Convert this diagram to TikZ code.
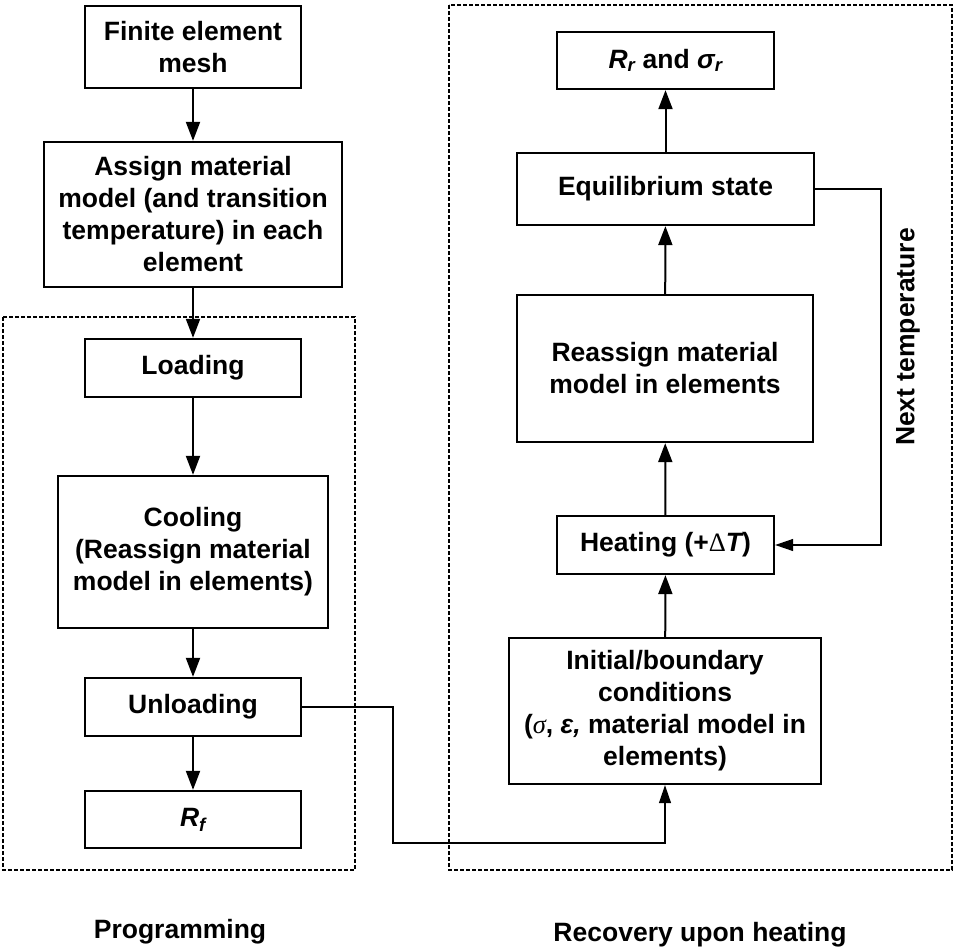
\documentclass[tikz,border=0pt]{standalone}
\usepackage{fontspec}
\setmainfont{Liberation Sans}
\newfontfamily\serifgr{Liberation Serif}
\usetikzlibrary{arrows.meta}
\begin{document}
\begin{tikzpicture}[x=1pt,y=-1pt,
  box/.style={draw, line width=2.3pt, inner sep=0pt, align=center, font=\fontsize{26.5}{32}\selectfont\bfseries},
  flow/.style={line width=2pt, -{Triangle[length=19pt,width=14pt]}},
  link/.style={line width=1.2pt, -{Triangle[length=18pt,width=12pt]}},
  region/.style={line width=1.6pt, dash pattern=on 4pt off 2pt},
  caption/.style={inner sep=0pt, font=\fontsize{26.5}{32}\selectfont\bfseries}]
\useasboundingbox (0,0) rectangle (955,950);
% regions
\draw[region] (3,317) rectangle (355,870);
\draw[region] (449,5) rectangle (952,870);
% left column
\node[box, minimum width=216pt, minimum height=82pt] (mesh) at (193,47) {Finite element\\mesh};
\node[box, minimum width=298pt, minimum height=145pt] (assign) at (193,214.5) {Assign material\\model (and transition\\temperature) in each\\element};
\node[box, minimum width=216pt, minimum height=58pt] (loading) at (193,368) {Loading};
\node[box, minimum width=270pt, minimum height=152pt] (cooling) at (193,552) {Cooling\\(Reassign material\\model in elements)};
\node[box, minimum width=216pt, minimum height=58pt] (unloading) at (193,707) {Unloading};
\node[box, minimum width=216pt, minimum height=57pt] (rf) at (193,819.5) {\itshape R\textsubscript{f}};
% right column
\node[box, minimum width=217pt, minimum height=57pt] (rr) at (665.5,60.5) {{\itshape R\textsubscript{r}} and {\itshape σ\textsubscript{r}}};
\node[box, minimum width=297pt, minimum height=72pt] (equil) at (665.5,189) {Equilibrium state};
\node[box, minimum width=296pt, minimum height=147pt] (reassign) at (665,368.5) {Reassign material\\model in elements};
\node[box, minimum width=217pt, minimum height=58pt] (heating) at (665.5,545) {Heating (+{\serifgr\mdseries Δ}{\itshape T})};
\node[box, minimum width=312pt, minimum height=146pt] (init) at (665,711) {Initial/boundary\\conditions\\({\serifgr\itshape\mdseries σ}, {\itshape ε,} material model in\\elements)};
% labels
\node[caption, rotate=90] (next) at (908,337) {Next temperature};
\node[caption] (prog) at (180,932) {Programming};
\node[caption] (rec) at (700,935) {Recovery upon heating};
% flow arrows
\draw[flow] (mesh) -- (assign);
\draw[flow] (assign) -- (loading);
\draw[flow] (loading) -- (cooling);
\draw[flow] (cooling) -- (unloading);
\draw[flow] (unloading) -- (rf);
\draw[flow] (init) -- (heating);
\draw[flow] (heating) -- (reassign);
\draw[flow] (reassign) -- (equil);
\draw[flow] (equil) -- (rr);
% links
\coordinate (c1) at (393,843);
\coordinate (c2) at (881,545);
\draw[link] (unloading.east) -| (c1) -| (init.south);
\draw[link] (equil.east) -| (c2) -- (heating.east);
\end{tikzpicture}
\end{document}
